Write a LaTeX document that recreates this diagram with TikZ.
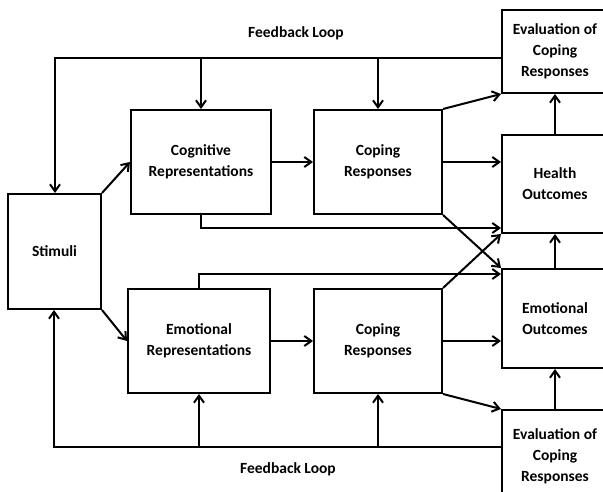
\documentclass[tikz,border=0pt]{standalone}
\usepackage{fontspec}
\setmainfont{Carlito}
\usetikzlibrary{arrows.meta}
\begin{document}
\begin{tikzpicture}[x=1pt, y=-1pt, line width=2pt,
  >={Straight Barb[length=7pt, width=10pt]},
  box/.style={rectangle, draw, align=center, inner sep=2pt},
  every node/.style={font=\fontsize{15.5}{21}\selectfont\bfseries}]
  \useasboundingbox (0, 0) rectangle (603, 492);
  % Nodes
  \node (stim) [box, minimum width=93pt, minimum height=115pt] at (54.5, 251.5) {Stimuli};
  \node (cogrep) [box, minimum width=140pt, minimum height=104pt] at (201, 162) {Cognitive\\Representations};
  \node (copeA) [box, minimum width=128pt, minimum height=104pt] at (378, 162) {Coping\\Responses};
  \node (emorep) [box, minimum width=142pt, minimum height=104pt] at (199, 341) {Emotional\\Representations};
  \node (copeB) [box, minimum width=128pt, minimum height=104pt] at (378, 341) {Coping\\Responses};
  \node (evalA) [box, minimum width=106pt, minimum height=83pt] at (555, 51.5) {Evaluation of\\Coping\\Responses};
  \node (health) [box, minimum width=106pt, minimum height=98pt] at (555, 184) {Health\\Outcomes};
  \node (emoout) [box, minimum width=106pt, minimum height=99pt] at (555, 318.5) {Emotional\\Outcomes};
  \node (evalB) [box, minimum width=106pt, minimum height=92pt] at (555, 456) {Evaluation of\\Coping\\Responses};
  \node (fbtop) at (296, 33) {Feedback Loop};
  \node (fbbot) at (288, 469) {Feedback Loop};
  \coordinate (topL) at (55, 58);
  \coordinate (botL) at (54, 447);
  % Arrows
  \draw[->] (evalA.west |- topL) -- (topL) -- (stim.north -| topL);
  \draw[->] (cogrep.north |- topL) -- (cogrep.north);
  \draw[->] (copeA.north |- topL) -- (copeA.north);
  \draw[->] (evalB.west |- botL) -- (botL) -- (stim.south -| botL);
  \draw[->] (emorep.south |- botL) -- (emorep.south);
  \draw[->] (copeB.south |- botL) -- (copeB.south);
  \draw[->] (stim.north east) -- (cogrep.west);
  \draw[->] (stim.south east) -- (emorep.west);
  \draw[->] (cogrep) -- (copeA);
  \draw[->] (emorep) -- (copeB);
  \draw[->] (copeA.east) -- (copeA.east -| health.west);
  \draw[->] (copeB.east) -- (copeB.east -| emoout.west);
  \draw[->] (copeA.north east) -- (evalA.south west);
  \draw[->] (copeA.south east) -- (emoout.north west);
  \draw[->] (copeB.north east) -- (health.south west);
  \draw[->] (copeB.south east) -- (evalB.north west);
  \draw[->] (cogrep.south) |- ([yshift=6pt]health.south west);
  \draw[->] (emorep.north) |- ([yshift=-6pt]emoout.north west);
  \draw[->] (health.north) -- (evalA.south);
  \draw[->] (emoout.north) -- (health.south);
  \draw[->] (evalB.north) -- (emoout.south);
\end{tikzpicture}
\end{document}
